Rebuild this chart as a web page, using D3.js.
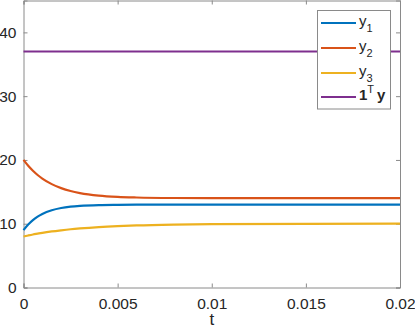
<!DOCTYPE html>
<html>
<head>
<meta charset="utf-8">
<script src="https://d3js.org/d3.v7.min.js"></script>
<style>
  body { margin: 0; background: #fff; }
  text { font-family: "Liberation Sans", Arial, Helvetica, sans-serif; fill: #262626; }
</style>
</head>
<body>
<div id="vis"></div>
<script>
// time samples and the three states
const tVals = [0, 0.00025, 0.0005, 0.00075, 0.001, 0.0015, 0.002, 0.0025, 0.003, 0.004, 0.005, 0.006, 0.008, 0.01, 0.015, 0.02]
const y1Vals = [9, 9.88, 10.57, 11.11, 11.53, 12.11, 12.46, 12.67, 12.80, 12.93, 12.97, 12.99, 13.0, 13, 13, 13]
const y2Vals = [20, 19.08, 18.30, 17.64, 17.08, 16.21, 15.58, 15.13, 14.81, 14.41, 14.21, 14.11, 14.03, 14.01, 14, 14]
const y3Vals = [8, 8.16, 8.31, 8.44, 8.57, 8.79, 8.97, 9.13, 9.26, 9.47, 9.62, 9.73, 9.86, 9.93, 9.99, 10]
const sumVals = [37, 37, 37, 37, 37, 37, 37, 37, 37, 37, 37, 37, 37, 37, 37, 37]

const xTicks = [0, 0.005, 0.01, 0.015, 0.02]
const xTickLabels = ['0', '0.005', '0.01', '0.015', '0.02']
const yTicks = [0, 10, 20, 30, 40]

var width = 415, height = 334
var plotLeft = 23.5, plotRight = 400, plotTop = 0.5, plotBottom = 287.5

var svg = d3.select('#vis')
  .append('svg')
  .attr('width', width)
  .attr('height', height)

var x = d3.scaleLinear().domain([0, 0.02]).range([plotLeft, plotRight])
var y = d3.scaleLinear().domain([0, 45]).range([plotBottom, plotTop])

var axisColor = '#8a8a8a'

// bottom axis + top ticks
svg.append('g')
  .attr('transform', 'translate(0,' + plotBottom + ')')
  .call(d3.axisBottom(x).tickValues(xTicks).tickSize(-4).tickFormat(function(d, i) { return xTickLabels[i] }).tickPadding(10))
svg.append('g')
  .attr('transform', 'translate(0,' + plotTop + ')')
  .call(d3.axisTop(x).tickValues(xTicks).tickSize(-4).tickFormat(''))

// left axis + right ticks
svg.append('g')
  .attr('transform', 'translate(' + plotLeft + ',0)')
  .call(d3.axisLeft(y).tickValues(yTicks).tickSize(-4).tickPadding(7))
svg.append('g')
  .attr('transform', 'translate(' + plotRight + ',0)')
  .call(d3.axisRight(y).tickValues(yTicks).tickSize(-4).tickFormat(''))

svg.selectAll('.domain').attr('stroke', axisColor).attr('stroke-width', 1)
svg.selectAll('.tick line').attr('stroke', axisColor)
svg.selectAll('.tick text')
  .attr('fill', '#262626')
  .style('font-size', '15.5px')
  .style('font-family', '"Liberation Sans", Arial, sans-serif')

// x label
svg.append('text')
  .attr('x', (plotLeft + plotRight) / 2)
  .attr('y', 325)
  .attr('text-anchor', 'middle')
  .style('font-size', '17px')
  .text('t')

var series = [
  { key: 'y1', vals: y1Vals, color: '#0072BD' },
  { key: 'y2', vals: y2Vals, color: '#D95319' },
  { key: 'y3', vals: y3Vals, color: '#EDB120' },
  { key: 'sum', vals: sumVals, color: '#7E2F8E' }
]

var line = d3.line()
  .x(function(d) { return x(d[0]) })
  .y(function(d) { return y(d[1]) })
  .curve(d3.curveMonotoneX)

svg.selectAll('path.series')
  .data(series)
  .enter()
  .append('path')
  .attr('class', 'series')
  .attr('fill', 'none')
  .attr('stroke', function(d) { return d.color })
  .attr('stroke-width', 2.2)
  .attr('d', function(d) { return line(tVals.map(function(t, i) { return [t, d.vals[i]] })) })

// legend
var lg = svg.append('g')
lg.append('rect')
  .attr('x', 317.5).attr('y', 10.5)
  .attr('width', 73).attr('height', 98.5)
  .attr('fill', '#fff')
  .attr('stroke', axisColor)

var rowY = [23, 48, 73, 97]
series.forEach(function(s, i) {
  lg.append('line')
    .attr('x1', 321).attr('x2', 356)
    .attr('y1', rowY[i]).attr('y2', rowY[i])
    .attr('stroke', s.color).attr('stroke-width', 2.2)
  var t = lg.append('text')
    .attr('x', 359)
    .attr('y', rowY[i] + 3)
    .style('font-size', '15px')
  if (i < 3) {
    t.append('tspan').text('y')
    t.append('tspan').attr('dy', 6).style('font-size', '11px').text(String(i + 1))
  } else {
    t.append('tspan').style('font-weight', 'bold').text('1')
    t.append('tspan').attr('dy', -7).style('font-size', '11px').text('T')
    t.append('tspan').attr('dy', 7).attr('dx', 3).style('font-weight', 'bold').text('y')
  }
})
</script>
</body>
</html>
